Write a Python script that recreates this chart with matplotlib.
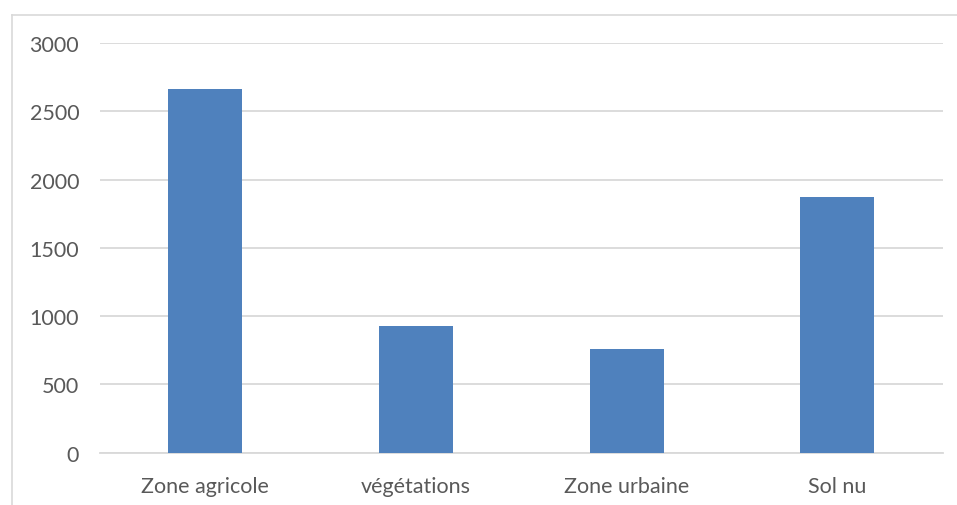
import matplotlib
matplotlib.use("Agg")
import matplotlib.pyplot as plt
from matplotlib.lines import Line2D

categories = ["Zone agricole", "végétations", "Zone urbaine", "Sol nu"]
values = [2661, 929, 755, 1875]
yticks = [0, 500, 1000, 1500, 2000, 2500, 3000]

plt.rcParams['font.family'] = ['Lato', 'DejaVu Sans']
fig = plt.figure(figsize=(9.57, 5.06), dpi=100)
W, H = 957, 506
ax = fig.add_axes([100 / W, 1 - 453.5 / H, 842.7 / W, 409.5 / H])

ax.bar(range(len(categories)), values, width=0.35, color="#4F81BD", zorder=3)
ax.set_xlim(-0.5, len(categories) - 0.5)
ax.set_ylim(0, 3000)
ax.set_yticks(yticks)
ax.set_yticklabels([str(v) for v in yticks])
ax.set_xticks(range(len(categories)))
ax.set_xticklabels(categories)
ax.yaxis.grid(True, color="#D9D9D9", linewidth=1.3, zorder=0)
ax.set_axisbelow(True)
for s in ["top", "right", "left"]:
    ax.spines[s].set_visible(False)
ax.spines["bottom"].set_color("#D9D9D9")
ax.spines["bottom"].set_linewidth(1.3)
ax.tick_params(axis="both", length=0, labelsize=15.5, colors="#595959")
ax.tick_params(axis="y", pad=15)
ax.tick_params(axis="x", pad=17)

# outer chart border (left and top visible)
fig.add_artist(Line2D([12 / W, 12 / W], [0, 1 - 16 / H], transform=fig.transFigure, color="#D9D9D9", linewidth=1.2))
fig.add_artist(Line2D([12 / W, 1], [1 - 16 / H, 1 - 16 / H], transform=fig.transFigure, color="#D9D9D9", linewidth=1.2))

fig.savefig("out.png", dpi=100)
